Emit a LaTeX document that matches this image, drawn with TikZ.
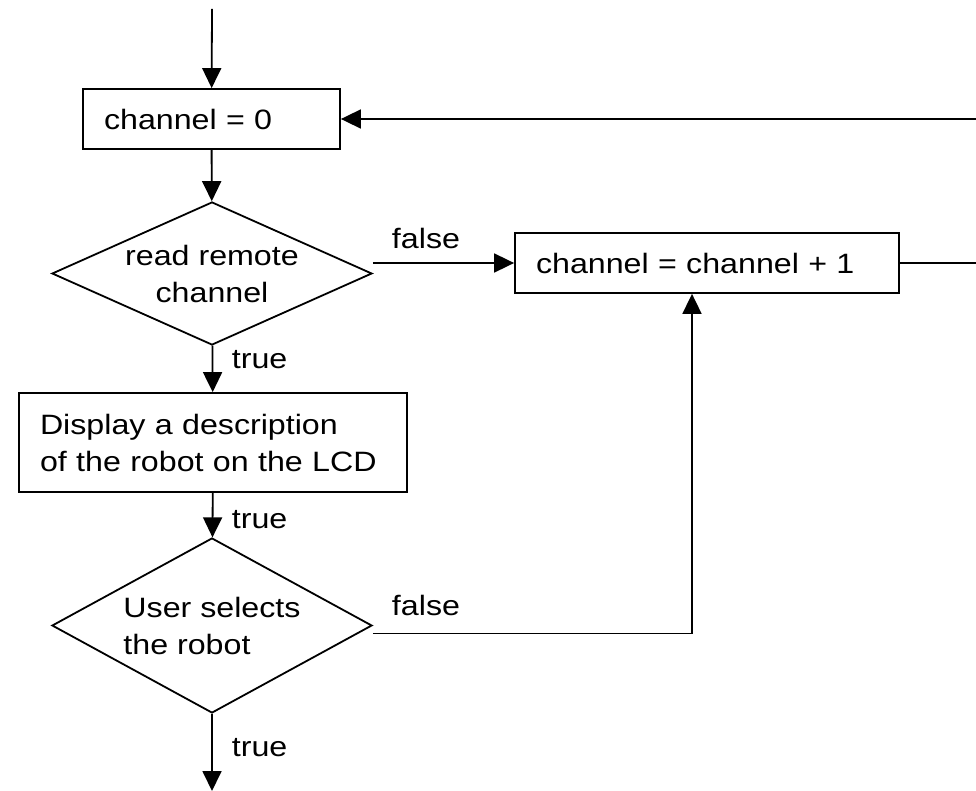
\documentclass[tikz,border=0pt]{standalone}
\usepackage{fontspec}
\setmainfont{Liberation Sans}[FakeStretch=1.15]
\usetikzlibrary{arrows.meta,shapes.geometric}

\begin{document}
\begin{tikzpicture}[x=1pt, y=-1pt, line width=1.8pt,
    >={Triangle[length=20pt,width=19pt]},
    font=\fontsize{28pt}{37pt}\selectfont,
    proc/.style={draw, rectangle, inner xsep=21pt, inner ysep=0pt, align=left},
    decision/.style={draw, diamond, inner sep=0pt, minimum width=320pt, align=center},
    lbl/.style={inner sep=0pt}]
    \clip (0,0) rectangle (976,791);

    % blocks
    \coordinate (start) at (212,9);
    \node[proc, text width=215pt, minimum height=60pt] (init) at (211.5,119) {channel = 0};
    \node[decision, aspect=2.24, minimum height=143pt] (remote) at (212,273.5) {read remote\\channel};
    \node[proc, text width=342pt, minimum height=60pt] (next) at (707,263) {channel = channel + 1};
    \node[proc, text width=346pt, minimum height=99pt] (show) at (213,442.5) {Display a description\\of the robot on the LCD};
    \node[decision, aspect=1.83, minimum height=175pt, align=left] (select) at (212,625.5) {User selects\\the robot};
    \coordinate (end) at (212,791);
    \coordinate (loop) at (990,200);

    % branch labels
    \node[lbl] (f1) at (426,238) {false};
    \node[lbl] (f2) at (426,605) {false};
    \node[lbl, anchor=west] (t1) at (231,360) {true};
    \node[lbl, anchor=west] (t2) at (231,520) {true};
    \node[lbl, anchor=west] (t3) at (231,748) {true};

    % flow
    \draw[->] (start) -- (init);
    \draw[->] (init) -- (remote);
    \draw[->] (remote.east |- next.west) -- (next.west);
    \draw[->] (remote) -- (show);
    \draw[->] (show) -- (select);
    \draw[->] ([yshift=-8pt]select.east) -| ([xshift=-15pt]next.south);
    \draw[->] (select) -- (end);
    \draw[->] (next.east) -| (loop) |- (init.east);
\end{tikzpicture}
\end{document}
